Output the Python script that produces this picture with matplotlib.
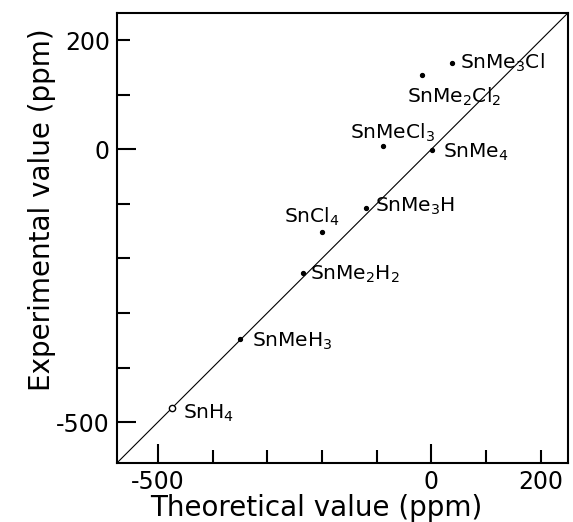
import matplotlib
matplotlib.use("Agg")
import matplotlib.pyplot as plt

plt.rcParams['font.family'] = 'DejaVu Sans'
plt.rcParams['mathtext.default'] = 'regular'

# compounds: theoretical vs experimental shift (ppm)
names = [r'SnMe$_3$Cl', r'SnMe$_2$Cl$_2$', r'SnMeCl$_3$', r'SnMe$_4$', r'SnMe$_3$H',
         r'SnCl$_4$', r'SnMe$_2$H$_2$', r'SnMeH$_3$', r'SnH$_4$']
theo = [38, -17, -88, 2, -119, -200, -235, -349, -475]
expt = [159, 137, 7, -1, -107, -151, -227, -347, -475]
# label offsets in points (dx, dy) relative to the point
offs = [(6, 0), (-11, -16), (-23.5, 9.5), (7.5, -2), (6.5, 1), (-27, 11), (5, -0.5), (8.5, -2), (8, -3.5)]
open_pt = [False] * 8 + [True]

lim = (-575, 250)

fig = plt.figure(figsize=(5.73, 5.22), dpi=100)
ax = fig.add_axes([0.204, 0.113, 0.787, 0.862])

ax.plot(lim, lim, color='black', lw=0.8, zorder=1)

for x, y, n, (dx, dy), op in zip(theo, expt, names, offs, open_pt):
    if op:
        ax.plot(x, y, 'o', ms=4.5, mfc='white', mec='black', mew=1.0, zorder=3)
    else:
        ax.plot(x, y, 'o', ms=2.8, color='black', zorder=3)
    ax.annotate(n, (x, y), xytext=(dx, dy), textcoords='offset points',
                fontsize=14.5, va='center', ha='left')

ax.set_xlim(lim)
ax.set_ylim(lim)

ticks = [-500, -400, -300, -200, -100, 0, 100, 200]
labels = ['-500', '', '', '', '', '0', '', '200']
ax.set_xticks(ticks)
ax.set_xticklabels(labels)
ax.set_yticks(ticks)
ax.set_yticklabels(labels)
ax.tick_params(direction='in', width=1.5, length=14, labelsize=17, pad=5)
for axis in (ax.xaxis, ax.yaxis):
    for t, v in zip(axis.get_major_ticks(), ticks):
        if v not in (-500, 0):
            t.tick1line.set_markersize(9.5)
ax.tick_params(top=False, right=False)

for s in ax.spines.values():
    s.set_linewidth(1.5)

ax.set_xlabel('Theoretical value (ppm)', fontsize=20)
ax.set_ylabel('Experimental value (ppm)', fontsize=20)
ax.xaxis.set_label_coords(0.443, -0.068)
ax.yaxis.set_label_coords(-0.135, 0.562)

fig.savefig('out.png', dpi=100)
